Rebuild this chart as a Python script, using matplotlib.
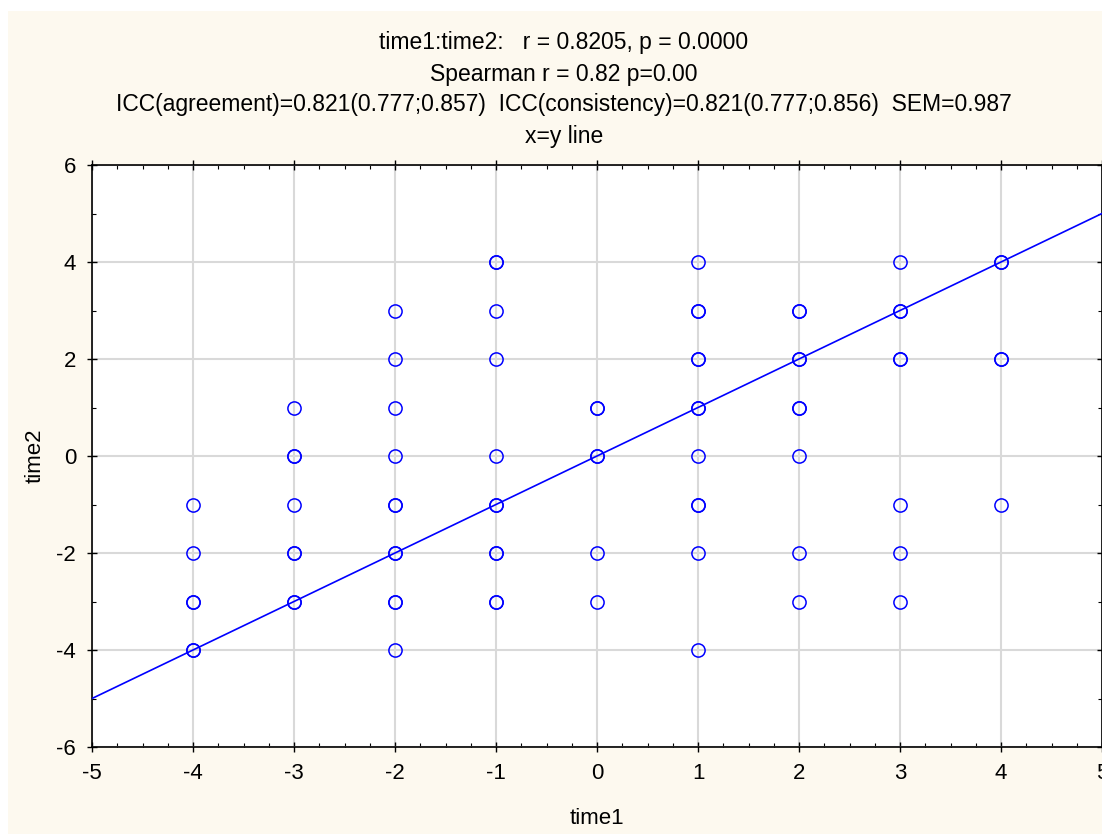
import numpy as np
import matplotlib.pyplot as plt
from matplotlib.patches import Rectangle
from matplotlib.ticker import MultipleLocator

plt.rcParams['font.family'] = ['Liberation Sans', 'DejaVu Sans']
plt.rcParams['axes.unicode_minus'] = False

# time1 / time2 pairs, repeated pairs appear as thicker circles
time1 = [-4, -4, -4, -4, -4, -4,
         -3, -3, -3, -3, -3, -3, -3, -3,
         -2, -2, -2, -2, -2, -2, -2, -2, -2, -2, -2,
         -1, -1, -1, -1, -1, -1, -1, -1, -1, -1, -1,
         0, 0, 0, 0, 0, 0,
         1, 1, 1, 1, 1, 1, 1, 1, 1, 1, 1, 1,
         2, 2, 2, 2, 2, 2, 2, 2, 2,
         3, 3, 3, 3, 3, 3, 3, 3,
         4, 4, 4, 4, 4]
time2 = [-1, -2, -3, -3, -4, -4,
         1, 0, 0, -1, -2, -2, -3, -3,
         3, 2, 1, 0, -1, -1, -2, -2, -3, -3, -4,
         4, 4, 3, 2, 0, -1, -1, -2, -2, -3, -3,
         1, 1, 0, 0, -2, -3,
         4, 3, 3, 2, 2, 1, 1, 0, -1, -1, -2, -4,
         3, 3, 2, 2, 1, 1, 0, -2, -3,
         4, 3, 3, 2, 2, -1, -2, -3,
         4, 4, 2, 2, -1]

line_x = [-5, 5]

titles = ["time1:time2:   r = 0.8205, p = 0.0000",
          "Spearman r = 0.82 p=0.00",
          "ICC(agreement)=0.821(0.777;0.857)  ICC(consistency)=0.821(0.777;0.856)  SEM=0.987",
          "x=y line"]

W, H = 1102, 834
fig = plt.figure(figsize=(W / 100, H / 100), dpi=100)
fig.patch.set_facecolor('white')
fig.patches.append(Rectangle((8 / W, 0), 1, 1 - 11 / H, transform=fig.transFigure,
                             facecolor='#fdf9ef', edgecolor='none', zorder=-10))

ax = fig.add_axes([92 / W, (H - 747) / H, (W - 92) / W, (747 - 165) / H])
ax.set_facecolor('white')

ax.plot(line_x, line_x, color='#0000ff', lw=1.2, zorder=3)
ax.plot(time1, time2, 'o', mfc='none', mec='#0000ff', mew=1.1, ms=9.5, zorder=4)

ax.set_xlim(-5, 5)
ax.set_ylim(-6, 6)
ax.xaxis.set_major_locator(MultipleLocator(1))
ax.xaxis.set_minor_locator(MultipleLocator(0.25))
ax.yaxis.set_major_locator(MultipleLocator(2))
ax.yaxis.set_minor_locator(MultipleLocator(1))
ax.grid(True, which='major', color='#d9d9d9', lw=1.5, zorder=0)
ax.set_axisbelow(True)
ax.tick_params(which='major', direction='inout', length=7, width=1, labelsize=16,
               top=True, right=True, pad=8)
ax.tick_params(which='minor', direction='in', length=3, width=0.8, top=True, right=True)
for s in ax.spines.values():
    s.set_linewidth(1.2)

ax.set_xlabel('time1', fontsize=16, labelpad=17)
ax.set_ylabel('time2', fontsize=16, labelpad=8)

ys = [42, 74, 105, 137]
for t, y in zip(titles, ys):
    fig.text(564 / W, 1 - y / H, t, ha='center', va='center', fontsize=16.5)

fig.savefig('out.png', dpi=100)
